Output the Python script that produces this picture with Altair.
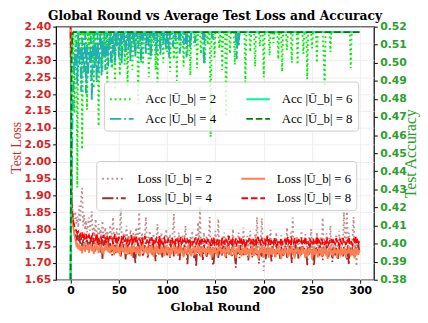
import altair as alt
import pandas as pd

rounds = list(range(300))

loss_2 = [
    2.460, 1.900, 1.860, 1.845, 1.830, 1.852, 1.815, 1.838, 1.805, 1.870, 1.820, 1.895, 1.922, 1.810, 1.842, 1.798, 1.825, 1.790, 1.812, 1.835,
    1.795, 1.820, 1.853, 1.786, 1.808, 1.778, 1.830, 1.792, 1.770, 1.815, 1.782, 1.800, 1.765, 1.825, 1.788, 1.772, 1.805, 1.760, 1.795, 1.780,
    1.768, 1.812, 1.775, 1.790, 1.836, 1.763, 1.785, 1.770, 1.802, 1.758, 1.780, 1.795, 1.865, 1.772, 1.760, 1.788, 1.752, 1.778, 1.810, 1.765,
    1.783, 1.755, 1.798, 1.770, 1.762, 1.788, 1.745, 1.775, 1.805, 1.758, 1.781, 1.850, 1.766, 1.750, 1.790, 1.770, 1.757, 1.784, 1.836, 1.763,
    1.748, 1.776, 1.795, 1.760, 1.742, 1.771, 1.787, 1.755, 1.768, 1.780, 1.815, 1.752, 1.774, 1.745, 1.790, 1.762, 1.738, 1.778, 1.760, 1.800,
    1.750, 1.772, 1.757, 1.785, 1.742, 1.768, 1.795, 1.845, 1.755, 1.740, 1.776, 1.763, 1.790, 1.748, 1.770, 1.735, 1.782, 1.758, 1.765, 1.810,
    1.745, 1.770, 1.756, 1.732, 1.778, 1.760, 1.795, 1.747, 1.768, 1.740, 1.785, 1.755, 1.820, 1.762, 1.868, 1.745, 1.772, 1.738, 1.790, 1.750,
    1.765, 1.780, 1.742, 1.758, 1.836, 1.748, 1.770, 1.735, 1.775, 1.752, 1.795, 1.740, 1.760, 1.830, 1.746, 1.768, 1.732, 1.778, 1.755, 1.790,
    1.742, 1.763, 1.750, 1.785, 1.738, 1.770, 1.756, 1.742, 1.800, 1.760, 1.735, 1.775, 1.748, 1.765, 1.790, 1.740, 1.758, 1.772, 1.745, 1.805,
    1.752, 1.738, 1.768, 1.780, 1.745, 1.760, 1.795, 1.735, 1.770, 1.752, 1.740, 1.785, 1.758, 1.835, 1.745, 1.765, 1.728, 1.772, 1.832, 1.750,
    1.676, 1.758, 1.742, 1.780, 1.755, 1.738, 1.768, 1.798, 1.745, 1.760, 1.735, 1.775, 1.750, 1.790, 1.740, 1.765, 1.755, 1.730, 1.782, 1.748,
    1.762, 1.738, 1.775, 1.752, 1.805, 1.745, 1.768, 1.733, 1.790, 1.756, 1.834, 1.742, 1.765, 1.750, 1.780, 1.736, 1.770, 1.755, 1.745, 1.795,
    1.750, 1.732, 1.768, 1.785, 1.745, 1.760, 1.738, 1.775, 1.752, 1.800, 1.740, 1.765, 1.730, 1.770, 1.755, 1.790, 1.742, 1.762, 1.748, 1.778,
    1.736, 1.834, 1.755, 1.770, 1.745, 1.788, 1.740, 1.760, 1.752, 1.810, 1.738, 1.772, 1.748, 1.765, 1.732, 1.785, 1.755, 1.745, 1.795, 1.758,
    1.742, 1.775, 1.760, 1.850, 1.748, 1.768, 1.873, 1.740, 1.790, 1.755, 1.765, 1.735, 1.780, 1.836, 1.748, 1.770, 1.690, 1.758, 1.745, 1.762,
]

loss_4 = [
    2.450, 1.870, 1.835, 1.810, 1.792, 1.785, 1.770, 1.778, 1.762, 1.781, 1.757, 1.772, 1.748, 1.766, 1.776, 1.740, 1.760, 1.771, 1.745, 1.763,
    1.752, 1.775, 1.738, 1.761, 1.769, 1.733, 1.756, 1.748, 1.772, 1.741, 1.759, 1.728, 1.765, 1.712, 1.750, 1.767, 1.736, 1.755, 1.744, 1.770,
    1.731, 1.758, 1.746, 1.722, 1.762, 1.739, 1.753, 1.727, 1.768, 1.742, 1.735, 1.757, 1.719, 1.749, 1.763, 1.732, 1.745, 1.710, 1.754, 1.740,
    1.760, 1.726, 1.748, 1.737, 1.766, 1.715, 1.743, 1.697, 1.751, 1.734, 1.758, 1.721, 1.745, 1.738, 1.762, 1.718, 1.740, 1.752, 1.729, 1.747,
    1.713, 1.744, 1.757, 1.731, 1.739, 1.720, 1.764, 1.736, 1.705, 1.749, 1.742, 1.725, 1.756, 1.733, 1.741, 1.716, 1.759, 1.737, 1.728, 1.750,
    1.722, 1.746, 1.738, 1.711, 1.755, 1.730, 1.743, 1.719, 1.761, 1.735, 1.727, 1.748, 1.740, 1.708, 1.752, 1.733, 1.744, 1.717, 1.757, 1.729,
    1.738, 1.696, 1.747, 1.732, 1.756, 1.723, 1.741, 1.735, 1.714, 1.750, 1.688, 1.743, 1.730, 1.759, 1.721, 1.745, 1.737, 1.709, 1.753, 1.731,
    1.742, 1.718, 1.748, 1.734, 1.726, 1.755, 1.740, 1.702, 1.692, 1.736, 1.749, 1.727, 1.744, 1.715, 1.758, 1.733, 1.739, 1.720, 1.751, 1.729,
    1.745, 1.712, 1.738, 1.754, 1.725, 1.741, 1.731, 1.718, 1.760, 1.735, 1.722, 1.686, 1.747, 1.732, 1.740, 1.714, 1.753, 1.728, 1.743, 1.719,
    1.737, 1.757, 1.724, 1.744, 1.707, 1.739, 1.730, 1.750, 1.716, 1.742, 1.734, 1.726, 1.761, 1.721, 1.736, 1.698, 1.746, 1.733, 1.719, 1.752,
    1.728, 1.741, 1.711, 1.738, 1.755, 1.723, 1.744, 1.735, 1.704, 1.749, 1.731, 1.740, 1.717, 1.757, 1.726, 1.742, 1.734, 1.712, 1.748, 1.737,
    1.721, 1.745, 1.730, 1.759, 1.715, 1.739, 1.727, 1.751, 1.736, 1.700, 1.743, 1.732, 1.720, 1.754, 1.728, 1.741, 1.709, 1.747, 1.734, 1.724,
    1.750, 1.731, 1.744, 1.718, 1.738, 1.693, 1.746, 1.725, 1.758, 1.733, 1.740, 1.714, 1.691, 1.735, 1.749, 1.727, 1.742, 1.720, 1.755, 1.730,
    1.737, 1.708, 1.748, 1.733, 1.724, 1.752, 1.739, 1.716, 1.745, 1.729, 1.741, 1.703, 1.750, 1.735, 1.722, 1.746, 1.731, 1.712, 1.756, 1.738,
    1.726, 1.743, 1.719, 1.749, 1.734, 1.741, 1.710, 1.752, 1.694, 1.737, 1.745, 1.723, 1.739, 1.731, 1.715, 1.748, 1.736, 1.727, 1.753, 1.732,
]

loss_6 = [
    2.450, 1.860, 1.825, 1.800, 1.782, 1.768, 1.752, 1.760, 1.741, 1.755, 1.736, 1.750, 1.728, 1.745, 1.758, 1.733, 1.748, 1.739, 1.754, 1.730,
    1.746, 1.757, 1.735, 1.749, 1.726, 1.744, 1.760, 1.738, 1.751, 1.729, 1.743, 1.756, 1.734, 1.747, 1.725, 1.741, 1.753, 1.737, 1.762, 1.731,
    1.745, 1.728, 1.750, 1.739, 1.755, 1.723, 1.742, 1.736, 1.758, 1.730, 1.747, 1.721, 1.740, 1.752, 1.733, 1.744, 1.727, 1.756, 1.738, 1.724,
    1.749, 1.735, 1.741, 1.720, 1.753, 1.731, 1.745, 1.737, 1.726, 1.750, 1.734, 1.742, 1.719, 1.748, 1.739, 1.757, 1.728, 1.743, 1.732, 1.746,
    1.722, 1.740, 1.751, 1.729, 1.744, 1.736, 1.718, 1.747, 1.733, 1.755, 1.727, 1.741, 1.738, 1.724, 1.749, 1.731, 1.745, 1.720, 1.737, 1.752,
    1.729, 1.743, 1.735, 1.717, 1.746, 1.732, 1.740, 1.754, 1.725, 1.738, 1.744, 1.721, 1.736, 1.750, 1.728, 1.742, 1.733, 1.716, 1.747, 1.739,
    1.726, 1.741, 1.753, 1.730, 1.737, 1.719, 1.745, 1.734, 1.748, 1.723, 1.739, 1.731, 1.756, 1.727, 1.742, 1.718, 1.736, 1.749, 1.732, 1.744,
    1.721, 1.738, 1.730, 1.751, 1.726, 1.743, 1.715, 1.737, 1.746, 1.729, 1.740, 1.733, 1.720, 1.748, 1.735, 1.758, 1.724, 1.741, 1.730, 1.745,
    1.718, 1.736, 1.744, 1.727, 1.750, 1.732, 1.722, 1.739, 1.747, 1.729, 1.735, 1.714, 1.742, 1.731, 1.753, 1.725, 1.738, 1.719, 1.745, 1.733,
    1.740, 1.723, 1.748, 1.730, 1.736, 1.716, 1.743, 1.728, 1.751, 1.734, 1.721, 1.739, 1.745, 1.726, 1.737, 1.712, 1.741, 1.729, 1.754, 1.732,
    1.720, 1.744, 1.735, 1.727, 1.749, 1.715, 1.738, 1.731, 1.746, 1.724, 1.740, 1.733, 1.718, 1.743, 1.729, 1.752, 1.726, 1.737, 1.711, 1.741,
    1.734, 1.722, 1.747, 1.730, 1.739, 1.717, 1.744, 1.728, 1.736, 1.750, 1.723, 1.738, 1.713, 1.742, 1.731, 1.746, 1.725, 1.740, 1.719, 1.735,
    1.748, 1.727, 1.737, 1.714, 1.743, 1.732, 1.721, 1.745, 1.729, 1.739, 1.710, 1.736, 1.749, 1.724, 1.741, 1.730, 1.716, 1.744, 1.733, 1.726,
    1.742, 1.719, 1.738, 1.747, 1.728, 1.735, 1.712, 1.740, 1.731, 1.751, 1.723, 1.737, 1.718, 1.745, 1.729, 1.739, 1.714, 1.743, 1.732, 1.725,
    1.748, 1.721, 1.736, 1.730, 1.744, 1.715, 1.739, 1.727, 1.750, 1.733, 1.720, 1.742, 1.729, 1.737, 1.713, 1.745, 1.731, 1.740, 1.724, 1.738,
]

loss_8 = [
    2.440, 1.880, 1.845, 1.822, 1.808, 1.800, 1.795, 1.788, 1.792, 1.780, 1.785, 1.776, 1.790, 1.772, 1.781, 1.770, 1.786, 1.768, 1.777, 1.782,
    1.771, 1.765, 1.779, 1.784, 1.762, 1.775, 1.769, 1.788, 1.766, 1.774, 1.760, 1.778, 1.770, 1.764, 1.783, 1.768, 1.772, 1.758, 1.776, 1.769,
    1.763, 1.780, 1.767, 1.771, 1.757, 1.774, 1.786, 1.765, 1.770, 1.761, 1.777, 1.768, 1.759, 1.773, 1.766, 1.781, 1.762, 1.770, 1.755, 1.768,
    1.774, 1.760, 1.769, 1.783, 1.757, 1.766, 1.772, 1.761, 1.778, 1.764, 1.754, 1.770, 1.767, 1.759, 1.775, 1.762, 1.768, 1.780, 1.756, 1.765,
    1.771, 1.758, 1.767, 1.762, 1.776, 1.753, 1.765, 1.770, 1.759, 1.772, 1.764, 1.757, 1.779, 1.761, 1.768, 1.755, 1.766, 1.773, 1.760, 1.764,
    1.758, 1.770, 1.763, 1.752, 1.767, 1.775, 1.760, 1.765, 1.756, 1.771, 1.762, 1.768, 1.754, 1.763, 1.777, 1.759, 1.766, 1.757, 1.769, 1.761,
    1.755, 1.768, 1.762, 1.772, 1.757, 1.764, 1.751, 1.766, 1.760, 1.774, 1.756, 1.763, 1.769, 1.758, 1.765, 1.753, 1.770, 1.761, 1.757, 1.767,
    1.762, 1.755, 1.771, 1.759, 1.764, 1.750, 1.767, 1.760, 1.776, 1.756, 1.763, 1.758, 1.769, 1.752, 1.765, 1.761, 1.757, 1.773, 1.759, 1.764,
    1.754, 1.768, 1.762, 1.757, 1.780, 1.760, 1.765, 1.751, 1.769, 1.763, 1.758, 1.772, 1.756, 1.764, 1.761, 1.775, 1.753, 1.766, 1.759, 1.770,
    1.757, 1.763, 1.752, 1.768, 1.761, 1.774, 1.756, 1.765, 1.760, 1.771, 1.754, 1.762, 1.767, 1.758, 1.777, 1.760, 1.765, 1.752, 1.769, 1.763,
    1.758, 1.772, 1.756, 1.764, 1.781, 1.759, 1.766, 1.753, 1.770, 1.762, 1.757, 1.775, 1.760, 1.765, 1.751, 1.768, 1.763, 1.758, 1.773, 1.756,
    1.764, 1.760, 1.770, 1.754, 1.766, 1.778, 1.759, 1.763, 1.752, 1.769, 1.761, 1.757, 1.774, 1.760, 1.765, 1.755, 1.771, 1.762, 1.758, 1.767,
    1.753, 1.764, 1.760, 1.776, 1.757, 1.766, 1.761, 1.751, 1.768, 1.763, 1.758, 1.772, 1.756, 1.765, 1.760, 1.779, 1.754, 1.767, 1.762, 1.757,
    1.770, 1.759, 1.764, 1.752, 1.768, 1.761, 1.775, 1.756, 1.763, 1.758, 1.771, 1.754, 1.766, 1.761, 1.757, 1.773, 1.760, 1.765, 1.751, 1.769,
    1.762, 1.757, 1.774, 1.759, 1.764, 1.753, 1.770, 1.761, 1.777, 1.756, 1.765, 1.760, 1.752, 1.768, 1.763, 1.780, 1.757, 1.766, 1.759, 1.764,
]

acc_2 = [
    0.380, 0.440, 0.500, 0.517, 0.472, 0.517, 0.517, 0.431, 0.517, 0.505, 0.517, 0.517, 0.452, 0.517, 0.495, 0.517, 0.517, 0.474, 0.517, 0.508,
    0.517, 0.490, 0.517, 0.517, 0.486, 0.517, 0.500, 0.517, 0.517, 0.465, 0.517, 0.512, 0.517, 0.495, 0.517, 0.517, 0.503, 0.517, 0.488, 0.517,
    0.517, 0.508, 0.517, 0.497, 0.517, 0.517, 0.485, 0.517, 0.510, 0.517, 0.517, 0.493, 0.517, 0.505, 0.517, 0.517, 0.499, 0.517, 0.517, 0.487,
    0.517, 0.510, 0.517, 0.517, 0.496, 0.517, 0.517, 0.505, 0.517, 0.517, 0.477, 0.517, 0.517, 0.508, 0.517, 0.499, 0.517, 0.517, 0.511, 0.517,
    0.517, 0.492, 0.517, 0.517, 0.504, 0.517, 0.517, 0.517, 0.496, 0.517, 0.489, 0.517, 0.517, 0.509, 0.517, 0.517, 0.500, 0.517, 0.517, 0.517,
    0.506, 0.517, 0.517, 0.495, 0.517, 0.517, 0.517, 0.502, 0.517, 0.517, 0.490, 0.517, 0.517, 0.517, 0.508, 0.517, 0.517, 0.498, 0.517, 0.517,
    0.517, 0.504, 0.517, 0.517, 0.493, 0.517, 0.517, 0.517, 0.509, 0.517, 0.517, 0.497, 0.517, 0.517, 0.517, 0.505, 0.517, 0.517, 0.517, 0.500,
    0.517, 0.517, 0.510, 0.517, 0.517, 0.459, 0.517, 0.517, 0.517, 0.503, 0.517, 0.517, 0.517, 0.517, 0.508, 0.517, 0.517, 0.496, 0.517, 0.517,
    0.517, 0.470, 0.517, 0.517, 0.517, 0.505, 0.517, 0.517, 0.517, 0.517, 0.499, 0.517, 0.517, 0.517, 0.510, 0.517, 0.517, 0.517, 0.517, 0.517,
    0.517, 0.488, 0.517, 0.517, 0.517, 0.517, 0.506, 0.517, 0.517, 0.517, 0.517, 0.498, 0.517, 0.517, 0.517, 0.517, 0.509, 0.517, 0.517, 0.517,
    0.492, 0.517, 0.517, 0.517, 0.517, 0.517, 0.504, 0.517, 0.517, 0.517, 0.511, 0.517, 0.517, 0.517, 0.517, 0.502, 0.517, 0.517, 0.517, 0.495,
    0.517, 0.517, 0.517, 0.517, 0.507, 0.517, 0.517, 0.517, 0.517, 0.500, 0.517, 0.517, 0.517, 0.517, 0.517, 0.499, 0.517, 0.517, 0.517, 0.517,
    0.517, 0.505, 0.517, 0.517, 0.517, 0.491, 0.517, 0.517, 0.517, 0.517, 0.508, 0.517, 0.517, 0.517, 0.517, 0.500, 0.517, 0.517, 0.517, 0.517,
    0.517, 0.517, 0.503, 0.487, 0.517, 0.517, 0.517, 0.517, 0.517, 0.506, 0.517, 0.517, 0.517, 0.517, 0.517, 0.517, 0.517, 0.517, 0.517, 0.517,
    0.517, 0.517, 0.517, 0.517, 0.517, 0.517, 0.517, 0.517, 0.517, 0.517, 0.497, 0.517, 0.517, 0.517, 0.517, 0.517, 0.517, 0.517, 0.517, 0.517,
]

acc_4 = [
    0.380, 0.432, 0.468, 0.490, 0.505, 0.497, 0.512, 0.488, 0.517, 0.499, 0.508, 0.484, 0.514, 0.502, 0.495, 0.517, 0.483, 0.510, 0.492, 0.506,
    0.500, 0.515, 0.479, 0.508, 0.517, 0.497, 0.511, 0.489, 0.517, 0.495, 0.509, 0.517, 0.493, 0.513, 0.503, 0.517, 0.496, 0.510, 0.517, 0.498,
    0.512, 0.517, 0.498, 0.514, 0.505, 0.517, 0.500, 0.517, 0.509, 0.517, 0.503, 0.515, 0.517, 0.499, 0.517, 0.511, 0.517, 0.504, 0.517, 0.517,
    0.507, 0.517, 0.501, 0.517, 0.517, 0.510, 0.517, 0.503, 0.517, 0.517, 0.508, 0.517, 0.517, 0.500, 0.517, 0.512, 0.517, 0.517, 0.505, 0.517,
    0.517, 0.509, 0.517, 0.502, 0.517, 0.517, 0.511, 0.517, 0.517, 0.506, 0.517, 0.517, 0.517, 0.504, 0.517, 0.517, 0.510, 0.517, 0.517, 0.507,
    0.517, 0.517, 0.503, 0.517, 0.517, 0.517, 0.509, 0.517, 0.517, 0.512, 0.517, 0.517, 0.517, 0.505, 0.517, 0.517, 0.517, 0.510, 0.517, 0.517,
    0.503, 0.517, 0.517, 0.517, 0.508, 0.517, 0.517, 0.517, 0.517, 0.511, 0.517, 0.517, 0.517, 0.517, 0.517, 0.517, 0.517, 0.517, 0.499, 0.517,
    0.517, 0.517, 0.517, 0.517, 0.517, 0.517, 0.517, 0.513, 0.517, 0.517, 0.517, 0.517, 0.517, 0.517, 0.517, 0.517, 0.517, 0.517, 0.517, 0.517,
    0.517, 0.517, 0.517, 0.517, 0.517, 0.517, 0.517, 0.517, 0.517, 0.517, 0.517, 0.517, 0.502, 0.517, 0.509, 0.517, 0.517, 0.517, 0.517, 0.517,
    0.517, 0.517, 0.517, 0.517, 0.517, 0.517, 0.517, 0.517, 0.517, 0.517, 0.517, 0.517, 0.517, 0.517, 0.517, 0.517, 0.517, 0.517, 0.517, 0.517,
    0.517, 0.517, 0.517, 0.517, 0.517, 0.517, 0.517, 0.517, 0.517, 0.517, 0.517, 0.517, 0.517, 0.517, 0.517, 0.517, 0.517, 0.517, 0.517, 0.517,
    0.517, 0.517, 0.517, 0.517, 0.517, 0.517, 0.517, 0.517, 0.517, 0.517, 0.517, 0.517, 0.517, 0.517, 0.517, 0.517, 0.517, 0.517, 0.517, 0.517,
    0.517, 0.517, 0.517, 0.517, 0.517, 0.517, 0.517, 0.517, 0.517, 0.517, 0.517, 0.517, 0.517, 0.517, 0.517, 0.517, 0.517, 0.517, 0.517, 0.517,
    0.517, 0.517, 0.517, 0.517, 0.517, 0.517, 0.517, 0.517, 0.517, 0.517, 0.517, 0.517, 0.517, 0.517, 0.517, 0.517, 0.517, 0.517, 0.517, 0.517,
    0.517, 0.517, 0.517, 0.517, 0.517, 0.517, 0.517, 0.517, 0.517, 0.517, 0.517, 0.517, 0.517, 0.517, 0.517, 0.517, 0.517, 0.517, 0.517, 0.517,
]

acc_6 = [
    0.380, 0.500, 0.514, 0.517, 0.517, 0.517, 0.517, 0.517, 0.517, 0.517, 0.517, 0.517, 0.517, 0.517, 0.517, 0.517, 0.517, 0.517, 0.517, 0.517,
    0.517, 0.517, 0.517, 0.517, 0.517, 0.517, 0.517, 0.517, 0.517, 0.517, 0.517, 0.517, 0.517, 0.517, 0.517, 0.517, 0.517, 0.517, 0.517, 0.517,
    0.517, 0.517, 0.517, 0.517, 0.517, 0.517, 0.517, 0.517, 0.517, 0.517, 0.517, 0.517, 0.517, 0.517, 0.517, 0.517, 0.517, 0.517, 0.517, 0.517,
    0.517, 0.517, 0.517, 0.517, 0.517, 0.517, 0.517, 0.517, 0.517, 0.517, 0.517, 0.517, 0.517, 0.517, 0.517, 0.517, 0.517, 0.517, 0.517, 0.517,
    0.517, 0.517, 0.517, 0.517, 0.517, 0.517, 0.517, 0.517, 0.517, 0.517, 0.517, 0.517, 0.517, 0.517, 0.517, 0.517, 0.517, 0.517, 0.517, 0.517,
    0.517, 0.517, 0.517, 0.517, 0.517, 0.517, 0.517, 0.517, 0.517, 0.517, 0.517, 0.517, 0.517, 0.517, 0.517, 0.517, 0.517, 0.517, 0.517, 0.517,
    0.517, 0.517, 0.517, 0.517, 0.517, 0.517, 0.517, 0.517, 0.517, 0.517, 0.517, 0.517, 0.517, 0.517, 0.517, 0.517, 0.517, 0.517, 0.517, 0.517,
    0.517, 0.517, 0.517, 0.517, 0.517, 0.517, 0.517, 0.517, 0.517, 0.517, 0.517, 0.517, 0.517, 0.517, 0.517, 0.517, 0.517, 0.517, 0.517, 0.517,
    0.517, 0.517, 0.517, 0.517, 0.517, 0.517, 0.517, 0.517, 0.517, 0.517, 0.517, 0.517, 0.517, 0.517, 0.517, 0.517, 0.517, 0.517, 0.517, 0.517,
    0.517, 0.517, 0.517, 0.517, 0.517, 0.517, 0.517, 0.517, 0.517, 0.517, 0.517, 0.517, 0.517, 0.517, 0.517, 0.517, 0.517, 0.517, 0.517, 0.517,
    0.517, 0.517, 0.517, 0.517, 0.517, 0.517, 0.517, 0.517, 0.517, 0.517, 0.517, 0.517, 0.517, 0.517, 0.517, 0.517, 0.517, 0.517, 0.517, 0.517,
    0.517, 0.517, 0.517, 0.517, 0.517, 0.517, 0.517, 0.517, 0.517, 0.517, 0.517, 0.517, 0.517, 0.517, 0.517, 0.517, 0.517, 0.517, 0.517, 0.517,
    0.517, 0.517, 0.517, 0.517, 0.517, 0.517, 0.517, 0.517, 0.517, 0.517, 0.517, 0.517, 0.517, 0.517, 0.517, 0.517, 0.517, 0.517, 0.517, 0.517,
    0.517, 0.517, 0.517, 0.517, 0.517, 0.517, 0.517, 0.517, 0.517, 0.517, 0.517, 0.517, 0.517, 0.517, 0.517, 0.517, 0.517, 0.517, 0.517, 0.517,
    0.517, 0.517, 0.517, 0.517, 0.517, 0.517, 0.517, 0.517, 0.517, 0.517, 0.517, 0.517, 0.517, 0.517, 0.517, 0.517, 0.517, 0.517, 0.517, 0.517,
]

acc_8 = [
    0.380, 0.505, 0.516, 0.517, 0.517, 0.517, 0.517, 0.517, 0.517, 0.517, 0.517, 0.517, 0.517, 0.517, 0.517, 0.517, 0.517, 0.517, 0.517, 0.517,
    0.517, 0.517, 0.517, 0.517, 0.517, 0.517, 0.517, 0.517, 0.517, 0.517, 0.517, 0.517, 0.517, 0.517, 0.517, 0.517, 0.517, 0.517, 0.517, 0.517,
    0.517, 0.517, 0.517, 0.517, 0.517, 0.517, 0.517, 0.517, 0.517, 0.517, 0.517, 0.517, 0.517, 0.517, 0.517, 0.517, 0.517, 0.517, 0.517, 0.517,
    0.517, 0.517, 0.517, 0.517, 0.517, 0.517, 0.517, 0.517, 0.517, 0.517, 0.517, 0.517, 0.517, 0.517, 0.517, 0.517, 0.517, 0.517, 0.517, 0.517,
    0.517, 0.517, 0.517, 0.517, 0.517, 0.517, 0.517, 0.517, 0.517, 0.517, 0.517, 0.517, 0.517, 0.517, 0.517, 0.517, 0.517, 0.517, 0.517, 0.517,
    0.517, 0.517, 0.517, 0.517, 0.517, 0.517, 0.517, 0.517, 0.517, 0.517, 0.517, 0.517, 0.517, 0.517, 0.517, 0.517, 0.517, 0.517, 0.517, 0.517,
    0.517, 0.517, 0.517, 0.517, 0.517, 0.517, 0.517, 0.517, 0.517, 0.517, 0.517, 0.517, 0.517, 0.517, 0.517, 0.517, 0.517, 0.517, 0.517, 0.517,
    0.517, 0.517, 0.517, 0.517, 0.517, 0.517, 0.517, 0.517, 0.517, 0.517, 0.517, 0.517, 0.517, 0.517, 0.517, 0.517, 0.517, 0.517, 0.517, 0.517,
    0.517, 0.517, 0.517, 0.517, 0.517, 0.517, 0.517, 0.517, 0.517, 0.517, 0.517, 0.517, 0.517, 0.517, 0.517, 0.517, 0.517, 0.517, 0.517, 0.517,
    0.517, 0.517, 0.517, 0.517, 0.517, 0.517, 0.517, 0.517, 0.517, 0.517, 0.517, 0.517, 0.517, 0.517, 0.517, 0.517, 0.517, 0.517, 0.517, 0.517,
    0.517, 0.517, 0.517, 0.517, 0.517, 0.517, 0.517, 0.517, 0.517, 0.517, 0.517, 0.517, 0.517, 0.517, 0.517, 0.517, 0.517, 0.517, 0.517, 0.517,
    0.517, 0.517, 0.517, 0.517, 0.517, 0.517, 0.517, 0.517, 0.517, 0.517, 0.517, 0.517, 0.517, 0.517, 0.517, 0.517, 0.517, 0.517, 0.517, 0.517,
    0.517, 0.517, 0.517, 0.517, 0.517, 0.517, 0.517, 0.517, 0.517, 0.517, 0.517, 0.517, 0.517, 0.517, 0.517, 0.517, 0.517, 0.517, 0.517, 0.517,
    0.517, 0.517, 0.517, 0.517, 0.517, 0.517, 0.517, 0.517, 0.517, 0.517, 0.517, 0.517, 0.517, 0.517, 0.517, 0.517, 0.517, 0.517, 0.517, 0.517,
    0.517, 0.517, 0.517, 0.517, 0.517, 0.517, 0.517, 0.517, 0.517, 0.517, 0.517, 0.517, 0.517, 0.517, 0.517, 0.517, 0.517, 0.517, 0.517, 0.517,
]

loss_names = ["Loss |Ū_b| = 2", "Loss |Ū_b| = 4", "Loss |Ū_b| = 6", "Loss |Ū_b| = 8"]
acc_names = ["Acc |Ū_b| = 2", "Acc |Ū_b| = 4", "Acc |Ū_b| = 6", "Acc |Ū_b| = 8"]
loss_colors = ["#bc8f8f", "#a52a2a", "#ff7f50", "#ff0000"]
acc_colors = ["#00ee00", "#20b2aa", "#00fa9a", "#008000"]
dashes = [[1.8, 3.0], [11.5, 2.9, 1.8, 2.9], [1, 0], [6.7, 2.9]]
x_ticks = [0, 50, 100, 150, 200, 250, 300]
loss_ticks = [1.65, 1.70, 1.75, 1.80, 1.85, 1.90, 1.95, 2.00, 2.05, 2.10, 2.15, 2.20, 2.25, 2.30, 2.35, 2.40]
acc_ticks = [0.38, 0.39, 0.40, 0.41, 0.42, 0.43, 0.44, 0.45, 0.46, 0.47, 0.48, 0.49, 0.50, 0.51, 0.52]

loss_series = [loss_2, loss_4, loss_6, loss_8]
acc_series = [acc_2, acc_4, acc_6, acc_8]

SERIF = "Liberation Serif"
SERIF_WIDE = "DejaVu Serif"
SANS = "DejaVu Sans"
RED = "#d62728"
GREEN = "#2ca02c"


def make_df(series, names, field):
    rows = []
    for vals, name in zip(series, names):
        for r, v in zip(rounds, vals):
            rows.append({"round": r, field: v, "series": name})
    return pd.DataFrame(rows)


loss_df = make_df(loss_series, loss_names, "loss")
acc_df = make_df(acc_series, acc_names, "acc")

x_enc = alt.X(
    "round:Q",
    scale=alt.Scale(domain=[-15, 314], nice=False, zero=False),
    axis=alt.Axis(
        values=x_ticks, title="Global Round", titleFont=SERIF_WIDE, titleFontSize=12,
        titleFontWeight="bold", titleColor="black", titlePadding=6,
        labelColor="black", grid=True, labelPadding=2,
    ),
)


def legend(x, y):
    return alt.Legend(
        title=None, orient="none", legendX=x, legendY=y, columns=2,
        symbolType="stroke", symbolSize=576, symbolStrokeWidth=2,
        labelFont=SERIF, labelFontSize=13, labelColor="black", labelFontWeight="normal",
        labelOffset=11, labelLimit=300, columnPadding=26, rowPadding=-3,
        fillColor="rgba(255,255,255,0.8)", strokeColor="#cccccc",
        cornerRadius=3, padding=5,
    )


def group_layer(df, names, colors, y_enc_fn, width, leg):
    layers = []
    for name in names:
        layers.append(
            alt.Chart(df)
            .transform_filter(alt.datum.series == name)
            .mark_line(clip=True, strokeWidth=width)
            .encode(
                x=x_enc,
                y=y_enc_fn(),
                color=alt.Color("series:N", scale=alt.Scale(domain=names, range=colors), legend=leg),
                strokeDash=alt.StrokeDash("series:N", scale=alt.Scale(domain=names, range=dashes), legend=leg),
            )
        )
    return alt.layer(*layers)


def loss_y():
    return alt.Y(
        "loss:Q",
        scale=alt.Scale(domain=[1.65, 2.40], nice=False, zero=False),
        axis=alt.Axis(
            values=loss_ticks, format=".2f", title="Test Loss", titleFont=SERIF,
            titleFontSize=14, titleFontWeight="normal", titleColor=RED,
            titleAngle=270, titleBaseline="alphabetic", titleAlign="center",
            titleX=-36, titleY=123,
            labelColor=RED, grid=True, labelPadding=2,
        ),
    )


def acc_y():
    return alt.Y(
        "acc:Q",
        scale=alt.Scale(domain=[0.38, 0.52], nice=False, zero=False),
        axis=alt.Axis(
            orient="right", values=acc_ticks, format=".2f", title="Test Accuracy",
            titleFont=SERIF, titleFontSize=16, titleFontWeight="normal", titleColor=GREEN,
            titleAngle=270, titleBaseline="alphabetic", titleAlign="center",
            titleX=42, titleY=129,
            labelColor=GREEN, grid=False, labelPadding=2.5,
        ),
    )


loss_layer = group_layer(loss_df, loss_names, loss_colors, loss_y, 1.8, legend(41, 137))
acc_layer = group_layer(acc_df, acc_names, acc_colors, acc_y, 1.9, legend(49, 56))

chart = (
    alt.layer(loss_layer, acc_layer)
    .resolve_scale(y="independent", color="independent", strokeDash="independent")
    .properties(
        width=324, height=258,
        title=alt.TitleParams(
            "Global Round vs Average Test Loss and Accuracy", font=SERIF_WIDE, fontSize=12.5,
            fontWeight="bold", color="black", anchor="middle", offset=-2,
        ),
        autosize=alt.AutoSizeParams(type="none"),
        padding={"left": 49, "top": 16, "right": 47, "bottom": 36},
    )
    .configure_view(stroke="black", strokeWidth=1.2)
    .configure_axis(
        domain=False, tickColor="black", tickSize=3.5, tickWidth=1,
        labelFont=SANS, labelFontWeight="bold", labelFontSize=11,
        gridColor="#ebebeb", gridWidth=0.8,
    )
)

chart.save("out.html", embed_options={"renderer": "svg", "actions": False})
